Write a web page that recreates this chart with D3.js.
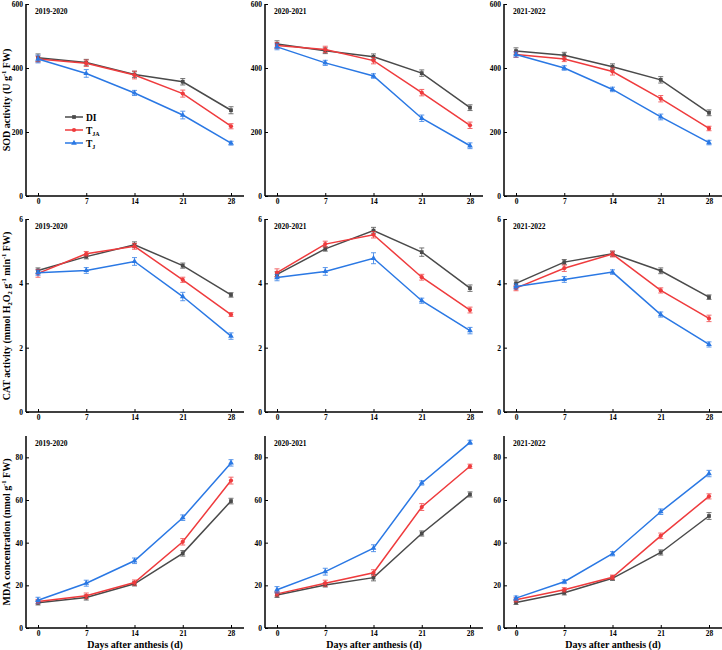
<!DOCTYPE html>
<html><head><meta charset="utf-8">
<script src="https://cdn.jsdelivr.net/npm/d3@7"></script>
<style>
body{margin:0;background:#fff}
text{font-family:"Liberation Serif","Times New Roman",serif;font-weight:bold;fill:#000}
</style>
</head><body>
<svg id="c" width="722" height="650"></svg>
<script>
// ---------- data ----------
const days = [0, 7, 14, 21, 28];
const dayTicks = [0, 7, 14, 21, 28];
const years = ["2019-2020", "2020-2021", "2021-2022"];

const sodDI  = [[432, 417, 380, 357, 268], [475, 454, 435, 384, 276], [453, 440, 404, 363, 260]];
const sodTJA = [[428, 415, 378, 320, 218], [470, 458, 423, 323, 221], [442, 428, 389, 304, 211]];
const sodTJ  = [[428, 383, 322, 253, 165], [466, 416, 375, 243, 157], [442, 400, 333, 247, 167]];
const sodErrDI  = [[12, 10, 10, 10, 11], [10, 9, 9, 10, 9], [10, 9, 9, 10, 9]];
const sodErrTJA = [[9, 10, 12, 11, 8], [9, 10, 10, 10, 10], [9, 8, 11, 10, 7]];
const sodErrTJ  = [[12, 12, 8, 12, 6], [9, 8, 7, 10, 9], [8, 7, 7, 9, 7]];

const catDI  = [[4.40, 4.83, 5.20, 4.55, 3.64], [4.28, 5.07, 5.64, 4.97, 3.85], [4.00, 4.66, 4.92, 4.39, 3.57]];
const catTJA = [[4.31, 4.92, 5.15, 4.11, 3.03], [4.33, 5.22, 5.51, 4.19, 3.17], [3.85, 4.47, 4.91, 3.78, 2.91]];
const catTJ  = [[4.33, 4.40, 4.68, 3.59, 2.36], [4.18, 4.37, 4.78, 3.46, 2.53], [3.90, 4.12, 4.35, 3.03, 2.10]];
const catErrDI  = [[0.08, 0.07, 0.09, 0.08, 0.07], [0.08, 0.07, 0.10, 0.13, 0.10], [0.10, 0.08, 0.08, 0.09, 0.07]];
const catErrTJA = [[0.12, 0.07, 0.09, 0.08, 0.06], [0.12, 0.09, 0.10, 0.09, 0.09], [0.08, 0.10, 0.09, 0.08, 0.10]];
const catErrTJ  = [[0.08, 0.09, 0.12, 0.13, 0.10], [0.10, 0.12, 0.17, 0.08, 0.10], [0.08, 0.09, 0.07, 0.08, 0.08]];

const mdaDI  = [[11.8, 14.3, 20.7, 35.0, 59.5], [15.5, 20.2, 23.6, 44.3, 62.6], [12.0, 16.5, 23.3, 35.4, 52.5]];
const mdaTJA = [[12.4, 15.1, 21.3, 40.4, 69.1], [16.0, 21.0, 25.9, 56.7, 75.8], [13.2, 17.9, 23.8, 43.2, 61.7]];
const mdaTJ  = [[13.0, 21.0, 31.5, 51.7, 77.4], [17.9, 26.4, 37.4, 68.0, 87.0], [14.0, 21.7, 34.8, 54.5, 72.4]];
const mdaErrDI  = [[1.0, 1.2, 1.0, 1.3, 1.3], [1.2, 1.0, 1.5, 1.2, 1.2], [1.0, 1.0, 1.0, 1.2, 1.6]];
const mdaErrTJA = [[1.0, 1.3, 1.2, 1.5, 1.6], [1.0, 1.4, 1.4, 1.6, 1.0], [1.0, 1.0, 1.0, 1.3, 1.2]];
const mdaErrTJ  = [[1.4, 1.4, 1.3, 1.3, 1.5], [1.5, 1.6, 1.6, 1.0, 1.0], [1.0, 0.9, 1.0, 1.3, 1.5]];

const sodTicks = [0, 200, 400, 600];
const catTicks = [0, 2, 4, 6];
const mdaTicks = [0, 20, 40, 60, 80];

// ---------- layout ----------
const colors = {DI: "#4a4a4a", TJA: "#ef3b3d", TJ: "#2a78e4"};
const symbols = {DI: d3.symbolSquare, TJA: d3.symbolCircle, TJ: d3.symbolTriangle};
const colAxisX = [26, 265, 504];
const rowsCfg = [
  {top: 4, bottom: 196, max: 600, ticks: sodTicks, series: {DI: [sodDI, sodErrDI], TJA: [sodTJA, sodErrTJA], TJ: [sodTJ, sodErrTJ]}},
  {top: 219, bottom: 412, max: 6, ticks: catTicks, series: {DI: [catDI, catErrDI], TJA: [catTJA, catErrTJA], TJ: [catTJ, catErrTJ]}},
  {top: 436, bottom: 628, max: 90, ticks: mdaTicks, series: {DI: [mdaDI, mdaErrDI], TJA: [mdaTJA, mdaErrTJA], TJ: [mdaTJ, mdaErrTJ]}}
];
const svg = d3.select("#c");
const fmt = d3.format("d");

rowsCfg.forEach((row, ri) => {
  colAxisX.forEach((ax, ci) => {
    const x = d3.scaleLinear().domain([0, 28]).range([ax + 12, ax + 205]);
    const y = d3.scaleLinear().domain([0, row.max]).range([row.bottom, row.top]);
    const g = svg.append("g");
    g.append("line").attr("x1", ax).attr("x2", ax + 218).attr("y1", row.bottom).attr("y2", row.bottom)
      .attr("stroke", "#000").attr("stroke-width", 1.5);
    g.append("line").attr("x1", ax).attr("x2", ax).attr("y1", row.bottom).attr("y2", row.top)
      .attr("stroke", "#000").attr("stroke-width", 1.5);
    const xa = g.append("g").attr("transform", `translate(0,${row.bottom})`)
      .call(d3.axisBottom(x).tickValues(dayTicks).tickFormat(fmt).tickSize(-3).tickPadding(3));
    xa.select(".domain").remove();
    xa.selectAll("text").attr("font-size", 7.5).style("font-family", '"Liberation Serif",serif').style("font-weight", "bold");
    xa.selectAll("line").attr("stroke-width", 1);
    const ya = g.append("g").attr("transform", `translate(${ax},0)`)
      .call(d3.axisLeft(y).tickValues(row.ticks).tickFormat(fmt).tickSize(-3).tickPadding(3));
    ya.select(".domain").remove();
    ya.selectAll("text").attr("font-size", 7.5).style("font-family", '"Liberation Serif",serif').style("font-weight", "bold");
    ya.selectAll("line").attr("stroke-width", 1);
    g.append("text").attr("x", ax + 9).attr("y", row.top + 10).attr("font-size", 7.5).text(years[ci]);

    ["DI", "TJA", "TJ"].forEach(name => {
      const vals = row.series[name][0][ci];
      const errs = row.series[name][1][ci];
      const pts = days.map((d, i) => ({d, v: vals[i], e: errs[i]}));
      const c = colors[name];
      g.append("path").datum(pts)
        .attr("d", d3.line().x(p => x(p.d)).y(p => y(p.v)))
        .attr("fill", "none").attr("stroke", c).attr("stroke-width", 1.5);
      const eb = g.append("g").attr("stroke", c).attr("stroke-width", 0.9).attr("opacity", 0.85);
      pts.forEach(p => {
        eb.append("line").attr("x1", x(p.d)).attr("x2", x(p.d)).attr("y1", y(p.v - p.e)).attr("y2", y(p.v + p.e));
        eb.append("line").attr("x1", x(p.d) - 2.5).attr("x2", x(p.d) + 2.5).attr("y1", y(p.v - p.e)).attr("y2", y(p.v - p.e));
        eb.append("line").attr("x1", x(p.d) - 2.5).attr("x2", x(p.d) + 2.5).attr("y1", y(p.v + p.e)).attr("y2", y(p.v + p.e));
      });
      g.selectAll(null).data(pts).enter().append("path")
        .attr("d", d3.symbol().type(symbols[name]).size(14))
        .attr("transform", p => `translate(${x(p.d)},${y(p.v)})`)
        .attr("fill", c);
    });
  });
});

function yTitle(cy, parts) {
  const t = svg.append("text").attr("transform", `translate(9.5,${cy}) rotate(-90)`)
    .attr("text-anchor", "middle").attr("font-size", 10);
  parts.forEach(([s, type]) => {
    const ts = t.append("tspan").text(s);
    if (type === "sup") ts.attr("font-size", 6.5).attr("dy", -4);
    else if (type === "sub") ts.attr("font-size", 6.5).attr("dy", 2.5);
    else if (type === "back") ts.attr("dy", 4);
    else if (type === "up") ts.attr("dy", -2.5);
  });
}
yTitle(100, [["SOD activity (U g", ""], ["-1", "sup"], [" FW)", "back"]]);
yTitle(316, [["CAT activity (mmol H", ""], ["2", "sub"], ["O", "up"], ["2", "sub"], [" g", "up"], ["-1", "sup"], [" min", "back"], ["-1", "sup"], [" FW)", "back"]]);
yTitle(532, [["MDA concentration (nmol g", ""], ["-1", "sup"], [" FW)", "back"]]);

colAxisX.forEach(ax => {
  svg.append("text").attr("x", ax + 109).attr("y", 648).attr("text-anchor", "middle")
    .attr("font-size", 10).text("Days after anthesis (d)");
});

const legendItems = [["DI", "DI", ""], ["TJA", "T", "JA"], ["TJ", "T", "J"]];
const lg = svg.append("g");
legendItems.forEach(([k, main, sub], i) => {
  const yy = 117 + i * 13;
  lg.append("line").attr("x1", 65).attr("x2", 83).attr("y1", yy).attr("y2", yy)
    .attr("stroke", colors[k]).attr("stroke-width", 1.5);
  lg.append("path").attr("d", d3.symbol().type(symbols[k]).size(14)).attr("transform", `translate(74,${yy})`).attr("fill", colors[k]);
  const t = lg.append("text").attr("x", 86).attr("y", yy + 3.5).attr("font-size", 9.5);
  t.append("tspan").text(main);
  if (sub) t.append("tspan").attr("font-size", 6).attr("dy", 2.5).text(sub);
});
</script>
</body></html>
